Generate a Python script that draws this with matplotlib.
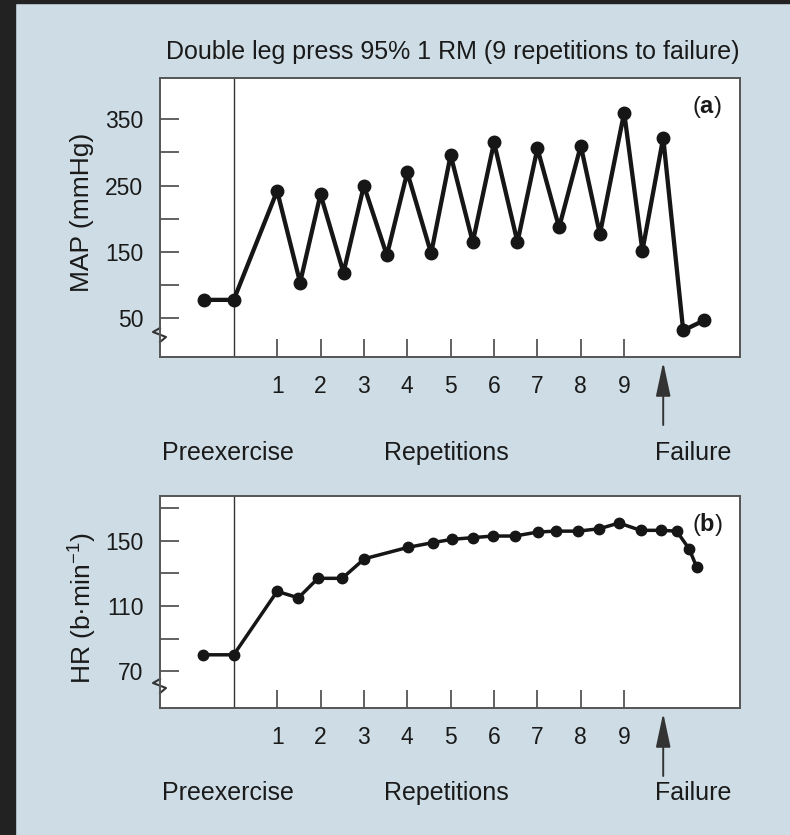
import matplotlib
matplotlib.use("Agg")
import matplotlib.pyplot as plt
import matplotlib.transforms as mtransforms

plt.rcParams['font.family'] = ['Liberation Sans', 'DejaVu Sans']
plt.rcParams['mathtext.fontset'] = 'custom'
plt.rcParams['mathtext.rm'] = 'Liberation Sans'
plt.rcParams['mathtext.bf'] = 'Liberation Sans:bold'

# MAP (mmHg) during double leg press
map_x = [-0.68, 0, 1, 1.53, 2, 2.53, 3, 3.53, 4, 4.55, 5, 5.51, 6, 6.54,
         7, 7.5, 8, 8.44, 9, 9.42, 9.9, 10.36, 10.84]
map_y = [78, 78, 242, 104, 237, 119, 250, 145, 270, 148, 296, 165, 315, 165,
         306, 187, 310, 177, 360, 152, 322, 32, 47]

# HR (b/min)
hr_x = [-0.7, 0, 1, 1.49, 1.94, 2.5, 3.01, 4.01, 4.6, 5.04, 5.51, 5.98, 6.48,
        7.02, 7.44, 7.94, 8.43, 8.88, 9.38, 9.86, 10.21, 10.5, 10.67]
hr_y = [80, 80, 119, 115, 127, 127, 139, 146, 149, 151, 152, 153, 153,
        155.5, 156, 156, 157.5, 161, 156.5, 156.5, 156, 145, 134]

reps = [1, 2, 3, 4, 5, 6, 7, 8, 9]
failure_x = 9.9

bg = '#cedde5'
ink = '#161616'
txt = '#1a1a1a'
spine_c = '#555555'

fig = plt.figure(figsize=(7.9, 8.35), dpi=100, facecolor=bg)
# dark frame strips of the screenshot
fig.patches.append(plt.Rectangle((0, 0), 15 / 790, 1, transform=fig.transFigure,
                                 color='#222222', zorder=0))
fig.patches.append(plt.Rectangle((0, 1 - 3 / 835), 1, 3 / 835, transform=fig.transFigure,
                                 color='#222222', zorder=0))

ax1 = fig.add_axes([160 / 790, 1 - 357 / 835, 580 / 790, 279 / 835])
ax2 = fig.add_axes([160 / 790, 1 - 708 / 835, 580 / 790, 212 / 835])


def style(ax, ylim, major, minor, lw, ms, xs, ys, axh_px, tag):
    ax.set_facecolor('white')
    ax.plot(xs, ys, color=ink, lw=lw, marker='o', ms=ms, zorder=3,
            solid_joinstyle='round')
    ax.axvline(0, color='#333333', lw=1.0)
    ax.set_xlim(-1.7, 11.67)
    ax.set_ylim(*ylim)
    for s in ax.spines.values():
        s.set_color(spine_c)
        s.set_linewidth(1.4)
    ax.set_yticks(major)
    ax.set_yticks(minor, minor=True)
    ax.tick_params(axis='y', which='both', direction='in', length=13.5,
                   width=1.3, color=spine_c, labelsize=16.5, pad=12,
                   labelcolor=txt)
    ax.set_xticks(reps)
    ax.tick_params(axis='x', direction='in', length=13, width=1.3,
                   color=spine_c, labelsize=16.5, pad=13, labelcolor=txt)
    ax.text(0.943, 0.895 if tag == 'a' else 0.865, r'($\mathbf{%s}$)' % tag,
            transform=ax.transAxes, ha='center', va='center', fontsize=17,
            color=txt)
    # axis break zigzag
    yb = 22 / axh_px
    zx = [0, -7, 6, 0]
    zy = [7, 3, -2, -7]
    px = [x / 580 for x in zx]
    py = [yb + y / axh_px for y in zy]
    ax.plot(px, py, transform=ax.transAxes, color='#333333', lw=1.5, clip_on=False)
    # arrow and bottom labels
    blend = mtransforms.blended_transform_factory(ax.transData, ax.transAxes)
    ax.annotate('', xy=(failure_x, -5 / axh_px), xycoords=blend,
                xytext=(failure_x, -68 / axh_px), textcoords=blend,
                arrowprops=dict(arrowstyle='-|>,head_length=2.1,head_width=0.45',
                                color='#333333', lw=1.4, shrinkA=0, shrinkB=0,
                                mutation_scale=10))
    ly = -96 / axh_px if tag == 'a' else -85 / axh_px
    for x, t in [(-0.14, 'Preexercise'), (4.9, 'Repetitions'), (10.58, 'Failure')]:
        ax.text(x, ly, t, transform=blend, ha='center', va='center',
                fontsize=18, color=txt)


style(ax1, (-8, 412), [50, 150, 250, 350], [100, 200, 300], 3.1, 9,
      map_x, map_y, 279, 'a')
style(ax2, (47.3, 177.6), [70, 110, 150], [90, 130, 170], 2.5, 7.5,
      hr_x, hr_y, 212, 'b')

fig.text(453 / 790, 1 - 52 / 835, 'Double leg press 95% 1 RM (9 repetitions to failure)',
         ha='center', va='center', fontsize=18, color=txt)
fig.text(82 / 790, 1 - 212 / 835, 'MAP (mmHg)', rotation=90, ha='center',
         va='center', fontsize=19, color=txt)
fig.text(82 / 790, 1 - 608 / 835, 'HR (b\u00b7min$^{-1}$)', rotation=90, ha='center',
         va='center', fontsize=19, color=txt)

fig.savefig('out.png', dpi=100, facecolor=bg)
